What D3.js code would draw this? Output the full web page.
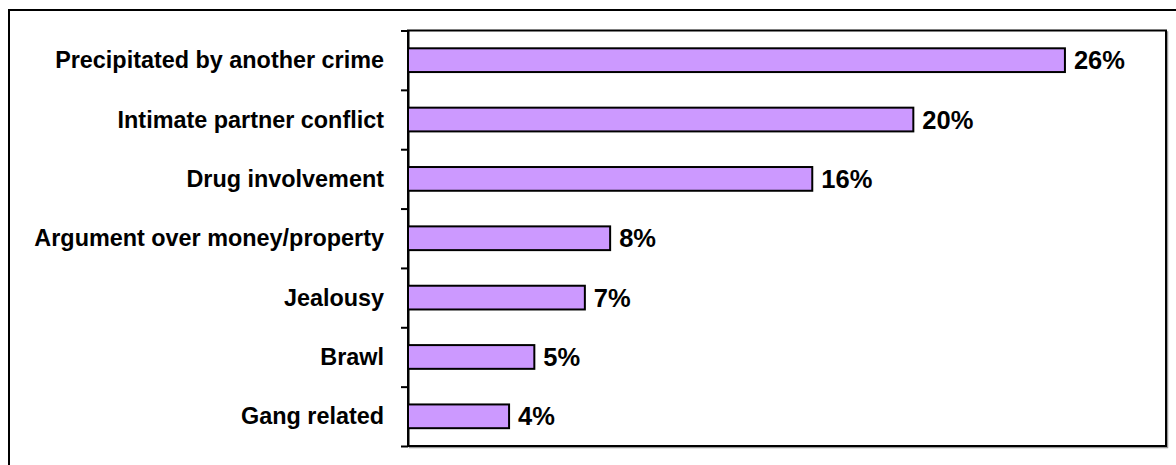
<!DOCTYPE html>
<html>
<head>
<meta charset="utf-8">
<script src="https://cdn.jsdelivr.net/npm/d3@7"></script>
<style>
  html, body { margin: 0; padding: 0; background: #fff; }
  svg { display: block; }
  text { font-family: "Liberation Sans", Arial, sans-serif; font-weight: bold; fill: #000; }
</style>
</head>
<body>
<svg id="chart" width="1176" height="465"></svg>
<script>
// Circumstances of homicide, share of cases
const categories = [
  "Precipitated by another crime",
  "Intimate partner conflict",
  "Drug involvement",
  "Argument over money/property",
  "Jealousy",
  "Brawl",
  "Gang related"
];
const values = [26, 20, 16, 8, 7, 5, 4];
const xDomainMax = 30;

const svg = d3.select("#chart");
const W = 1176, H = 465;

// Plot area bounds
const plot = { left: 408, right: 1166, top: 30.5, bottom: 446 };

// Outer frame (runs off the right and bottom edges)
svg.append("rect")
  .attr("x", 9).attr("y", 10)
  .attr("width", W + 20).attr("height", H + 20)
  .attr("fill", "none").attr("stroke", "#000").attr("stroke-width", 2);

const x = d3.scaleLinear().domain([0, xDomainMax]).range([plot.left, plot.right]);
const y = d3.scaleBand().domain(categories)
  .range([plot.top, plot.bottom])
  .paddingInner(0.6).paddingOuter(0.3);

// Plot area shadow and border
svg.append("rect")
  .attr("x", plot.left + 1.5).attr("y", plot.top + 1.5)
  .attr("width", plot.right - plot.left).attr("height", plot.bottom - plot.top)
  .attr("fill", "none").attr("stroke", "#999").attr("stroke-width", 1.5);
svg.append("rect")
  .attr("x", plot.left).attr("y", plot.top)
  .attr("width", plot.right - plot.left).attr("height", plot.bottom - plot.top)
  .attr("fill", "#fff").attr("stroke", "#000").attr("stroke-width", 2);

// Category axis: ticks sit on the band boundaries
const boundary = d3.scaleLinear().domain([0, categories.length]).range([plot.top, plot.bottom]);
const axis = svg.append("g")
  .attr("transform", `translate(${plot.left},0)`)
  .call(d3.axisLeft(boundary)
    .tickValues(d3.range(categories.length + 1))
    .tickFormat("")
    .tickSize(7)
    .tickSizeOuter(0));
axis.select(".domain").attr("stroke", "#000").attr("stroke-width", 2);
axis.selectAll(".tick line").attr("stroke", "#000").attr("stroke-width", 2);

// Bars
svg.append("g").selectAll("rect")
  .data(values)
  .join("rect")
  .attr("x", x(0))
  .attr("y", (d, i) => y(categories[i]))
  .attr("width", d => x(d) - x(0))
  .attr("height", y.bandwidth())
  .attr("fill", "#CC99FF")
  .attr("stroke", "#000")
  .attr("stroke-width", 2);

// Category labels
svg.append("g").selectAll("text")
  .data(categories)
  .join("text")
  .attr("x", 384)
  .attr("y", d => y(d) + y.bandwidth() / 2)
  .attr("text-anchor", "end")
  .attr("dominant-baseline", "central")
  .style("font-size", "23.4px")
  .text(d => d);

// Value labels
svg.append("g").selectAll("text")
  .data(values)
  .join("text")
  .attr("x", d => x(d) + 9)
  .attr("y", (d, i) => y(categories[i]) + y.bandwidth() / 2)
  .attr("dominant-baseline", "central")
  .style("font-size", "25.5px")
  .text(d => d + "%");
</script>
</body>
</html>
